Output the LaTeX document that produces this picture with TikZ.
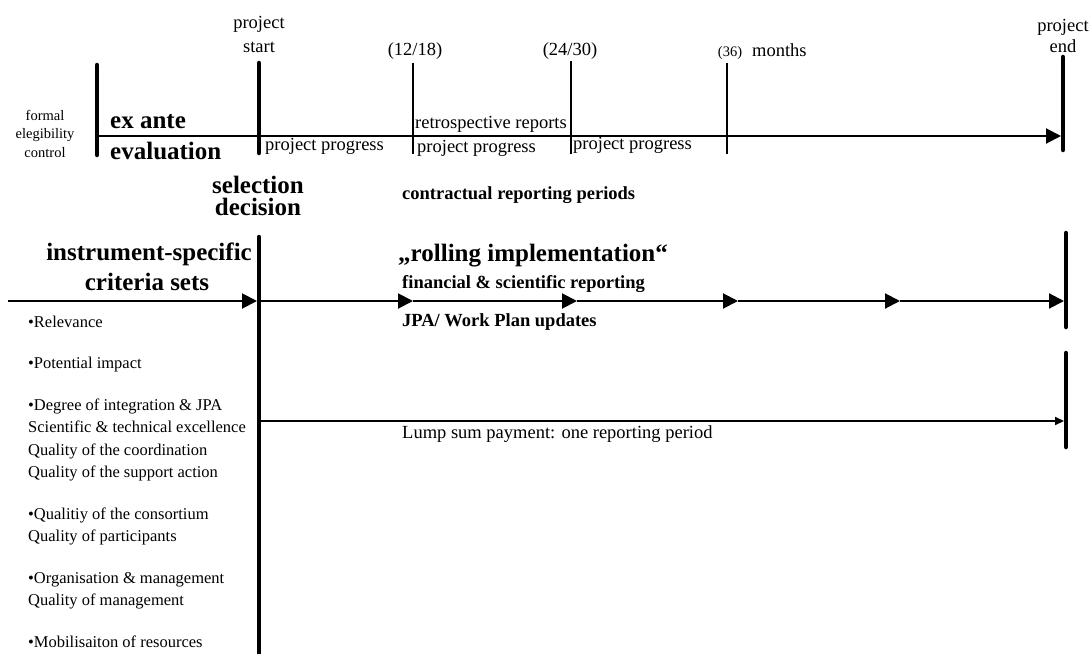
\documentclass[tikz,border=0pt]{standalone}
\usepackage{fontspec}
\setmainfont{Liberation Serif}
\usetikzlibrary{arrows.meta}
\begin{document}
\begin{tikzpicture}[x=1pt,y=-1pt,
  bar/.style={line width=4.5pt,line cap=round},
  tick/.style={line width=2pt},
  axis/.style={line width=2pt},
  bigtip/.style={-{Triangle[length=15pt,width=15pt]}},
  smalltip/.style={-{Triangle[length=9pt,width=8pt]}},
  lbl/.style={inner sep=0pt,font=\fontsize{18.5}{22}\selectfont},
  small/.style={inner sep=0pt,font=\fontsize{14.5}{18.5}\selectfont},
  head/.style={inner sep=0pt,font=\fontsize{25}{30}\selectfont\bfseries},
  sub/.style={inner sep=0pt,font=\fontsize{18.5}{22}\selectfont\bfseries},
  crit/.style={inner sep=0pt,font=\fontsize{16.5}{22.5}\selectfont,align=left,anchor=north west}]
\useasboundingbox (0,0) rectangle (1089,653);

% ---- time axis with milestones
\coordinate (evalT) at (97,65);    \coordinate (evalB) at (97,155);
\coordinate (startT) at (259,63);  \coordinate (startB) at (259,153);
\coordinate (m12T) at (413,63);    \coordinate (m12B) at (413,154);
\coordinate (m24T) at (571,61);    \coordinate (m24B) at (571,154);
\coordinate (m36T) at (727,63);    \coordinate (m36B) at (727,154);
\coordinate (endT) at (1063,57);   \coordinate (endB) at (1063,150);
\coordinate (axisL) at (97,136);   \coordinate (axisR) at (1061,136);

\draw[bar] (evalT) -- (evalB);
\draw[bar] (startT) -- (startB);
\draw[tick] (m12T) -- (m12B);
\draw[tick] (m24T) -- (m24B);
\draw[tick] (m36T) -- (m36B);
\draw[bar] (endT) -- (endB);
\draw[axis,bigtip] (axisL) -- (axisR);

\node[lbl,anchor=base] (pstart1) at (259,28) {project};
\node[lbl,anchor=base] (pstart2) at (259,52) {start};
\node[lbl,anchor=base] (mo12) at (415,55) {(12/18)};
\node[lbl,anchor=base] (mo24) at (570,55) {(24/30)};
\node[small,anchor=base] (mo36) at (730,56) {(36)};
\node[lbl,anchor=base west] (months) at (752,56) {months};
\node[lbl,anchor=base] (pend1) at (1063,31) {project};
\node[lbl,anchor=base] (pend2) at (1063,52) {end};

\node[small,anchor=base] (formal1) at (45,120) {formal};
\node[small,anchor=base] (formal2) at (45,138) {elegibility};
\node[small,anchor=base] (formal3) at (45,157) {control};

\node[head,anchor=base west] (exante1) at (110,128) {ex ante};
\node[head,anchor=base west] (exante2) at (110,159) {evaluation};

\node[lbl,anchor=base west] (prog1) at (265,150) {project progress};
\node[lbl,anchor=base west] (retro) at (415,128) {retrospective reports};
\node[lbl,anchor=base west] (prog2) at (417,152) {project progress};
\node[lbl,anchor=base west] (prog3) at (573,149) {project progress};

\node[head,anchor=base] (sel1) at (258,193) {selection};
\node[head,anchor=base] (sel2) at (258,215) {decision};
\node[sub,anchor=base west] (periods) at (402,199) {contractual reporting periods};

% ---- rolling implementation
\coordinate (selT) at (259,237);   \coordinate (selB) at (259,660);
\draw[bar] (selT) -- (selB);
\coordinate (runT) at (1066,233);  \coordinate (runB) at (1066,327);
\draw[bar] (runT) -- (runB);

\coordinate (midL) at (8,301);
\coordinate (p0) at (257,301);
\coordinate (c0) at (259,301);
\coordinate (p1) at (413,301);
\coordinate (p2) at (577,301);
\coordinate (p3) at (738,301);
\coordinate (p4) at (900,301);
\coordinate (p5) at (1064,301);
\draw[axis,bigtip] (midL) -- (p0);
\draw[axis,bigtip] (c0) -- (p1);
\draw[axis,bigtip] (p1) -- (p2);
\draw[axis,bigtip] (p2) -- (p3);
\draw[axis,bigtip] (p3) -- (p4);
\draw[axis,bigtip] (p4) -- (p5);

\node[head,anchor=base east] (crit1) at (252,260) {instrument-specific};
\node[head,anchor=base] (crit2) at (147,290) {criteria sets};
\node[head,anchor=base west] (rolling) at (398,261) {„rolling implementation“};
\node[sub,anchor=base west] (finrep) at (402,288) {financial \& scientific reporting};
\node[sub,anchor=base west] (jpa) at (402,326) {JPA/ Work Plan updates};

% ---- lump sum branch
\coordinate (lumpT) at (1066,353); \coordinate (lumpB) at (1066,447);
\draw[bar] (lumpT) -- (lumpB);
\coordinate (lumpL) at (259,421);  \coordinate (lumpR) at (1064,421);
\draw[axis,smalltip] (lumpL) -- (lumpR);
\node[lbl,anchor=base west] (lump) at (402,438) {Lump sum payment: one reporting period};

% ---- criteria list
\node[crit] (critlist) at (28,315.7) {%
\textbullet Relevance\\[19pt]
\textbullet Potential impact\\[19pt]
\textbullet Degree of integration \& JPA\\
Scientific \& technical excellence\\
Quality of the coordination\\
Quality of the support action\\[19pt]
\textbullet Qualitiy of the consortium\\
Quality of participants\\[19pt]
\textbullet Organisation \& management\\
Quality of management\\[19pt]
\textbullet Mobilisaiton of resources};
\end{tikzpicture}
\end{document}
